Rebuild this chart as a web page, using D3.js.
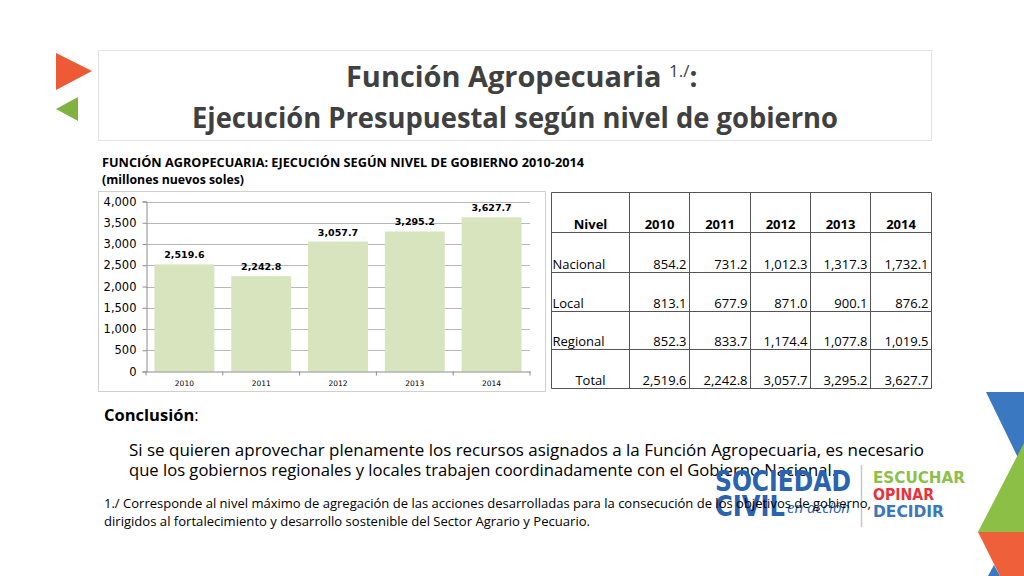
<!DOCTYPE html>
<html>
<head>
<meta charset="utf-8">
<script src="https://cdn.jsdelivr.net/npm/d3@7"></script>
<style>
  body { margin: 0; background: #fff; }
  svg { display: block; }
</style>
</head>
<body>
<svg id="slide"></svg>
<script>
const width = 1024;
const height = 576;

// Data
const years = ["2010", "2011", "2012", "2013", "2014"];
const levels = ["Nacional", "Local", "Regional"];
const nacional = [854.2, 731.2, 1012.3, 1317.3, 1732.1];
const local = [813.1, 677.9, 871.0, 900.1, 876.2];
const regional = [852.3, 833.7, 1174.4, 1077.8, 1019.5];
const total = [2519.6, 2242.8, 3057.7, 3295.2, 3627.7];
const yTicks = [0, 500, 1000, 1500, 2000, 2500, 3000, 3500, 4000];

const svg = d3.select("#slide")
  .attr("width", width)
  .attr("height", height);

const calibri = "'Open Sans', 'Noto Sans', sans-serif";
const verdana = "'DejaVu Sans', Verdana, sans-serif";
const fmt = d3.format(",.1f");

// --- DECORATIONS ---
svg.append("path").attr("d", "M56,53 L92,71 L56,90 Z").attr("fill", "#ee5a36");
svg.append("path").attr("d", "M56,109 L78,97 L78,121 Z").attr("fill", "#7fb241");

svg.append("path").attr("d", "M986,392 L1024,392 L1024,470 Z").attr("fill", "#3a78c2");
svg.append("path").attr("d", "M1024,443 L1024,532 L978,532 Z").attr("fill", "#8cbf45");
svg.append("path").attr("d", "M978,532 L1024,532 L1024,576 L1000,576 Z").attr("fill", "#ee5f3a");
svg.append("path").attr("d", "M988,576 L1000,576 L994,565 Z").attr("fill", "#3a78c2");

// --- TITLE ---
svg.append("rect")
  .attr("x", 98.5).attr("y", 50.5).attr("width", 833).attr("height", 90)
  .attr("fill", "none").attr("stroke", "#e3e3e3");

const t1 = svg.append("text")
  .attr("x", 346).attr("y", 87)
  .attr("font-family", calibri).attr("font-weight", "bold")
  .attr("font-size", 28).attr("fill", "#404040");
t1.append("tspan").text("Función Agropecuaria ").attr("textLength", 323).attr("lengthAdjust", "spacingAndGlyphs");
t1.append("tspan").text("1./").attr("font-size", 17).attr("font-weight", "normal").attr("dy", -10);
t1.append("tspan").text(":").attr("dy", 10);

svg.append("text")
  .attr("x", 192).attr("y", 128)
  .attr("font-family", calibri).attr("font-weight", "bold")
  .attr("font-size", 28).attr("fill", "#404040")
  .attr("textLength", 646).attr("lengthAdjust", "spacingAndGlyphs")
  .text("Ejecución Presupuestal según nivel de gobierno");

// --- CHART HEADER ---
svg.append("text")
  .attr("x", 102).attr("y", 167)
  .attr("font-family", calibri).attr("font-weight", "bold")
  .attr("font-size", 12.5).attr("fill", "#000")
  .attr("textLength", 482).attr("lengthAdjust", "spacingAndGlyphs")
  .text("FUNCIÓN AGROPECUARIA: EJECUCIÓN SEGÚN NIVEL DE GOBIERNO 2010-2014");
svg.append("text")
  .attr("x", 102).attr("y", 184)
  .attr("font-family", calibri).attr("font-weight", "bold")
  .attr("font-size", 12.5).attr("fill", "#000")
  .attr("textLength", 142).attr("lengthAdjust", "spacingAndGlyphs")
  .text("(millones nuevos soles)");

// --- BAR CHART ---
svg.append("rect")
  .attr("x", 98.5).attr("y", 191.5).attr("width", 447).attr("height", 200)
  .attr("fill", "#fff").attr("stroke", "#d0d0d0");

const plot = { left: 146, right: 530, top: 201.5, bottom: 371.5 };

const x = d3.scaleBand()
  .domain(years)
  .range([plot.left, plot.right])
  .paddingInner(0.22)
  .paddingOuter(0.11);

const y = d3.scaleLinear()
  .domain([0, 4000])
  .range([plot.bottom, plot.top]);

const chart = svg.append("g");

// gridlines
chart.append("g")
  .selectAll("line")
  .data(yTicks.filter(d => d > 0))
  .join("line")
  .attr("x1", plot.left).attr("x2", plot.right)
  .attr("y1", d => Math.round(y(d)) + 0.5).attr("y2", d => Math.round(y(d)) + 0.5)
  .attr("stroke", "#b8b8b8").attr("stroke-width", 1);

// bars
chart.append("g")
  .selectAll("rect")
  .data(total)
  .join("rect")
  .attr("x", (d, i) => x(years[i]))
  .attr("y", d => y(d))
  .attr("width", x.bandwidth())
  .attr("height", d => plot.bottom - y(d))
  .attr("fill", "#d7e4bd");

// y axis
const yAxis = chart.append("g")
  .attr("transform", `translate(${plot.left + 0.5},0)`)
  .call(d3.axisLeft(y).tickValues(yTicks).tickFormat(d3.format(",")).tickSize(4).tickPadding(6));
yAxis.select(".domain").attr("stroke", "#8c8c8c");
yAxis.selectAll(".tick line").attr("stroke", "#8c8c8c");
yAxis.selectAll(".tick text")
  .attr("font-family", verdana).attr("font-size", 11.5).attr("fill", "#000");

// x axis
const xAxis = chart.append("g")
  .attr("transform", `translate(0,${plot.bottom})`)
  .call(d3.axisBottom(x).tickSize(0).tickPadding(9));
xAxis.select(".domain").attr("stroke", "#8c8c8c");
xAxis.selectAll(".tick text")
  .attr("font-family", verdana).attr("font-size", 7.5).attr("fill", "#000");
// small separators between categories
xAxis.append("g")
  .selectAll("line")
  .data(d3.range(years.length + 1))
  .join("line")
  .attr("x1", i => plot.left + i * (plot.right - plot.left) / years.length)
  .attr("x2", i => plot.left + i * (plot.right - plot.left) / years.length)
  .attr("y1", 0).attr("y2", 4)
  .attr("stroke", "#8c8c8c");

// data labels
chart.append("g")
  .selectAll("text")
  .data(total)
  .join("text")
  .attr("x", (d, i) => x(years[i]) + x.bandwidth() / 2)
  .attr("y", d => y(d) - 6)
  .attr("text-anchor", "middle")
  .attr("font-family", verdana).attr("font-weight", "bold")
  .attr("font-size", 9.5).attr("fill", "#000")
  .text(d => fmt(d));

// --- TABLE ---
const colX = [551.5, 629.5, 689.5, 750.5, 810.5, 870.5, 931.5];
const rowY = [192.5, 232.5, 272.5, 311.5, 349.5, 388.5];
const table = svg.append("g");

table.append("g")
  .selectAll("line")
  .data(colX)
  .join("line")
  .attr("x1", d => d).attr("x2", d => d)
  .attr("y1", rowY[0]).attr("y2", rowY[rowY.length - 1])
  .attr("stroke", "#555");
table.append("g")
  .selectAll("line")
  .data(rowY)
  .join("line")
  .attr("x1", colX[0]).attr("x2", colX[colX.length - 1])
  .attr("y1", d => d).attr("y2", d => d)
  .attr("stroke", "#555");

const cellFont = 13;
// header
table.append("text")
  .attr("x", (colX[0] + colX[1]) / 2).attr("y", rowY[1] - 4)
  .attr("text-anchor", "middle")
  .attr("font-family", calibri).attr("font-weight", "bold").attr("font-size", cellFont)
  .text("Nivel");
table.append("g")
  .selectAll("text")
  .data(years)
  .join("text")
  .attr("x", (d, i) => (colX[i + 1] + colX[i + 2]) / 2)
  .attr("y", rowY[1] - 4)
  .attr("text-anchor", "middle")
  .attr("font-family", calibri).attr("font-weight", "bold").attr("font-size", cellFont)
  .text(d => d);

const rows = [
  { name: "Nivel", values: null },
  { name: levels[0], values: nacional },
  { name: levels[1], values: local },
  { name: levels[2], values: regional },
  { name: "Total", values: total }
].slice(1);

rows.forEach((r, ri) => {
  const baseY = rowY[ri + 2] - 4;
  table.append("text")
    .attr("x", r.name === "Total" ? (colX[0] + colX[1]) / 2 : colX[0] + 1)
    .attr("y", baseY)
    .attr("text-anchor", r.name === "Total" ? "middle" : "start")
    .attr("font-family", calibri).attr("font-size", cellFont)
    .text(r.name);
  table.append("g")
    .selectAll("text")
    .data(r.values)
    .join("text")
    .attr("x", (d, i) => colX[i + 2] - 3)
    .attr("y", baseY)
    .attr("text-anchor", "end")
    .attr("font-family", calibri).attr("font-size", cellFont)
    .text(d => fmt(d));
});

// --- CONCLUSION ---
const conc = svg.append("text")
  .attr("x", 104).attr("y", 421)
  .attr("font-family", calibri).attr("font-size", 16.5).attr("fill", "#000");
conc.append("tspan").attr("font-weight", "bold").text("Conclusión");
conc.append("tspan").text(":");

svg.append("text")
  .attr("x", 129).attr("y", 456)
  .attr("font-family", calibri).attr("font-size", 16.5)
  .attr("textLength", 795).attr("lengthAdjust", "spacingAndGlyphs")
  .text("Si se quieren aprovechar plenamente los recursos asignados a la Función Agropecuaria, es necesario");
svg.append("text")
  .attr("x", 129).attr("y", 476)
  .attr("font-family", calibri).attr("font-size", 16.5)
  .attr("textLength", 707).attr("lengthAdjust", "spacingAndGlyphs")
  .text("que los gobiernos regionales y locales trabajen coordinadamente con el Gobierno Nacional.");

// --- LOGO ---
const logo = svg.append("g");
logo.append("text")
  .attr("x", 715).attr("y", 491)
  .attr("font-family", "'DejaVu Sans', sans-serif").attr("font-weight", "bold")
  .attr("font-size", 29).attr("fill", "#2a63b0")
  .attr("textLength", 136).attr("lengthAdjust", "spacingAndGlyphs")
  .text("SOCIEDAD");
logo.append("text")
  .attr("x", 715).attr("y", 516)
  .attr("font-family", "'DejaVu Sans', sans-serif").attr("font-weight", "bold")
  .attr("font-size", 29).attr("fill", "#2a63b0")
  .attr("textLength", 70).attr("lengthAdjust", "spacingAndGlyphs")
  .text("CIVIL");
logo.append("text")
  .attr("x", 787).attr("y", 513)
  .attr("font-family", calibri).attr("font-style", "italic")
  .attr("font-size", 15).attr("fill", "#2a63b0")
  .attr("textLength", 63).attr("lengthAdjust", "spacingAndGlyphs")
  .text("en acción");
logo.append("line")
  .attr("x1", 861.5).attr("x2", 861.5).attr("y1", 465).attr("y2", 527)
  .attr("stroke", "#c8c8c8").attr("stroke-width", 1.5);
[["ESCUCHAR", "#8cc04a", 483, 92], ["OPINAR", "#e5343c", 500, 61], ["DECIDIR", "#3a76c0", 517, 71]]
  .forEach(([t, c, yy, w]) => {
    logo.append("text")
      .attr("x", 873).attr("y", yy)
      .attr("font-family", "'DejaVu Sans', sans-serif").attr("font-weight", "bold")
      .attr("font-size", 16).attr("fill", c)
      .attr("textLength", w).attr("lengthAdjust", "spacingAndGlyphs")
      .text(t);
  });

// --- FOOTNOTE ---
svg.append("text")
  .attr("x", 104).attr("y", 508)
  .attr("font-family", calibri).attr("font-size", 12.5)
  .attr("textLength", 767).attr("lengthAdjust", "spacingAndGlyphs")
  .text("1./ Corresponde al nivel máximo de agregación de las acciones desarrolladas para la consecución de los objetivos de gobierno,");
svg.append("text")
  .attr("x", 104).attr("y", 526)
  .attr("font-family", calibri).attr("font-size", 12.5)
  .attr("textLength", 486).attr("lengthAdjust", "spacingAndGlyphs")
  .text("dirigidos al fortalecimiento y desarrollo sostenible del Sector Agrario y Pecuario.");
</script>
</body>
</html>
